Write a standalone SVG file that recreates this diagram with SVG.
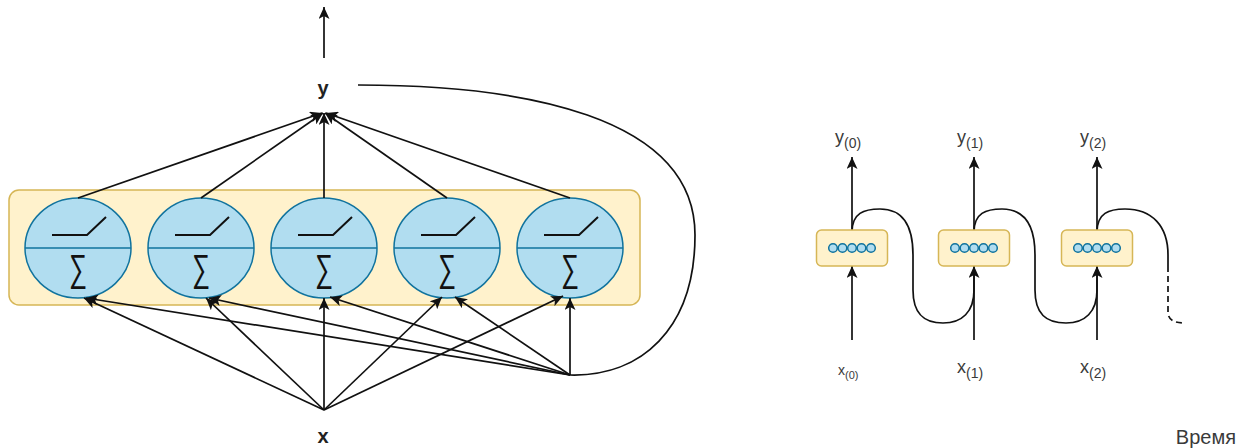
<svg xmlns="http://www.w3.org/2000/svg" width="1248" height="448" viewBox="0 0 1248 448">
  <style>
    .layer { fill: #fff2cc; stroke: #d6b656; stroke-width: 1.5; }
    .neuron { fill: #b1ddf0; stroke: #10739e; stroke-width: 1.5; }
    .split { stroke: #10739e; stroke-width: 1.5; }
    .relu { fill: none; stroke: #111; stroke-width: 2; }
    .sigma { font-family: "DejaVu Sans", sans-serif; font-weight: 200; font-size: 38px; fill: #111; }
    .edge { fill: none; stroke: #111; stroke-width: 1.7; }
    .arrow { fill: none; stroke: #111; stroke-width: 1.7; marker-end: url(#tip); }
    .dash { fill: none; stroke: #111; stroke-width: 1.7; stroke-dasharray: 6 4; }
    .bold { font-family: "Liberation Sans", Arial, sans-serif; font-size: 20px; font-weight: bold; fill: #222; text-anchor: middle; }
    .lbl { font-family: "Liberation Sans", Arial, sans-serif; fill: #3a3a3a; }
    .dot { fill: #b1ddf0; stroke: #10739e; stroke-width: 1.5; }
  </style>
  <defs>
    <marker id="tip" markerUnits="userSpaceOnUse" markerWidth="13" markerHeight="11" refX="12" refY="5.5" orient="auto">
      <path d="M0,0 L12,5.5 L0,11 L3,5.5 Z" fill="#111"/>
    </marker>
    <g id="unit">
      <ellipse class="neuron" cx="0" cy="0" rx="53" ry="50"/>
      <line class="split" x1="-53" y1="0" x2="53" y2="0"/>
      <path class="relu" d="M-26,-13 L9,-13 L28,-31"/>
      <text class="sigma" x="-9" y="33" textLength="18" lengthAdjust="spacingAndGlyphs">∑</text>
    </g>
    <g id="cell">
      <rect class="layer" x="-35.5" y="-18" width="71" height="36" rx="5"/>
      <circle class="dot" cx="-19" cy="0" r="4.3"/>
      <circle class="dot" cx="-9.5" cy="0" r="4.3"/>
      <circle class="dot" cx="0" cy="0" r="4.3"/>
      <circle class="dot" cx="9.5" cy="0" r="4.3"/>
      <circle class="dot" cx="19" cy="0" r="4.3"/>
    </g>
  </defs>

  <!-- feed-forward layer with recurrent output -->
  <g id="layer">
    <rect class="layer" x="9" y="190" width="631" height="115" rx="10"/>
  </g>
  <g id="n1"><use href="#unit" x="78" y="248"/></g>
  <g id="n2"><use href="#unit" x="201" y="248"/></g>
  <g id="n3"><use href="#unit" x="324" y="248"/></g>
  <g id="n4"><use href="#unit" x="447" y="248"/></g>
  <g id="n5"><use href="#unit" x="570" y="248"/></g>
  <g id="y-out"><text class="bold" x="323" y="95">y</text></g>
  <g id="x-in"><text class="bold" x="323" y="443">x</text></g>

  <g id="connectors">
    <!-- output -->
    <line class="arrow" x1="324" y1="58" x2="324" y2="7"/>
    <!-- neurons to y -->
    <line class="arrow" x1="78" y1="198" x2="322" y2="113"/>
    <line class="arrow" x1="201" y1="198" x2="323" y2="113"/>
    <line class="arrow" x1="324" y1="198" x2="324" y2="113"/>
    <line class="arrow" x1="447" y1="198" x2="325" y2="113"/>
    <line class="arrow" x1="570" y1="198" x2="326" y2="113"/>
    <!-- x to neurons -->
    <line class="arrow" x1="324" y1="410" x2="84" y2="298"/>
    <line class="arrow" x1="324" y1="410" x2="206" y2="298"/>
    <line class="arrow" x1="324" y1="410" x2="324" y2="298"/>
    <line class="arrow" x1="324" y1="410" x2="442" y2="297"/>
    <line class="arrow" x1="324" y1="410" x2="563" y2="296"/>
    <!-- fed-back y to neurons -->
    <line class="arrow" x1="570" y1="375" x2="86" y2="298"/>
    <line class="arrow" x1="570" y1="375" x2="209" y2="298"/>
    <line class="arrow" x1="570" y1="375" x2="330" y2="297"/>
    <line class="arrow" x1="570" y1="375" x2="455" y2="297"/>
    <line class="arrow" x1="570" y1="375" x2="570" y2="298"/>
    <!-- feedback loop -->
    <path class="edge" d="M358,85 C520,85 695,115 695,235 C695,330 640,377 570,375"/>

    <!-- unrolled through time -->
    <line class="arrow" x1="852" y1="230" x2="852" y2="157"/>
    <line class="arrow" x1="974" y1="230" x2="974" y2="157"/>
    <line class="arrow" x1="1097" y1="230" x2="1097" y2="157"/>
    <line class="arrow" x1="852" y1="340" x2="852" y2="266"/>
    <line class="arrow" x1="974" y1="340" x2="974" y2="266"/>
    <line class="arrow" x1="1097" y1="340" x2="1097" y2="266"/>
    <path class="edge" d="M852,232 C852,213 864,209 880,209 C904,209 913,228 913,255 L913,290 C913,314 924,323 943,323 C962,323 974,312 974,290 L974,274"/>
    <path class="edge" d="M974,232 C974,213 986,209 1002,209 C1026,209 1035,228 1035,255 L1035,290 C1035,314 1046,323 1066,323 C1085,323 1097,312 1097,290 L1097,274"/>
    <path class="edge" d="M1097,232 C1097,213 1109,209 1125,209 C1152,209 1168,226 1168,255 L1168,266"/>
    <path class="dash" d="M1168,266 L1168,312 C1168,320 1174,323 1185,323"/>
  </g>

  <g id="c0"><use href="#cell" x="852" y="248"/></g>
  <g id="c1"><use href="#cell" x="974" y="248"/></g>
  <g id="c2"><use href="#cell" x="1097" y="248"/></g>

  <g id="labels">
    <text class="lbl" x="835" y="143" font-size="18">y<tspan font-size="14" dy="5">(0)</tspan></text>
    <text class="lbl" x="957" y="143" font-size="18">y<tspan font-size="14" dy="5">(1)</tspan></text>
    <text class="lbl" x="1080" y="143" font-size="18">y<tspan font-size="14" dy="5">(2)</tspan></text>
    <text class="lbl" x="838" y="375" font-size="14" fill="#666">x<tspan font-size="11" dy="4">(0)</tspan></text>
    <text class="lbl" x="957" y="373" font-size="18">x<tspan font-size="14" dy="5">(1)</tspan></text>
    <text class="lbl" x="1080" y="373" font-size="18">x<tspan font-size="14" dy="5">(2)</tspan></text>
    <text class="lbl" x="1236" y="444" font-size="20" fill="#333" text-anchor="end">Время</text>
  </g>
</svg>
